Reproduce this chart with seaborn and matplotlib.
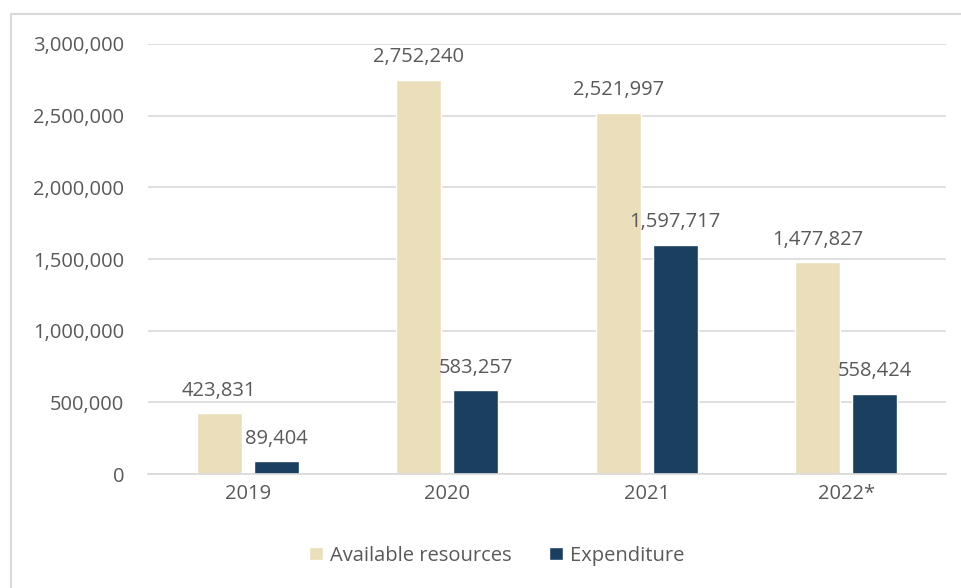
import matplotlib
matplotlib.use("Agg")
import matplotlib.pyplot as plt
import seaborn as sns
import pandas as pd
from matplotlib.patches import Rectangle

years = ["2019", "2020", "2021", "2022*"]
available = [423831, 2752240, 2521997, 1477827]
expenditure = [89404, 583257, 1597717, 558424]
series_names = ["Available resources", "Expenditure"]
colors = ["#EBDFBB", "#1B3F5F"]
yticks = [0, 500000, 1000000, 1500000, 2000000, 2500000, 3000000]

df = pd.DataFrame({
    "year": years * 2,
    "value": available + expenditure,
    "series": [series_names[0]] * 4 + [series_names[1]] * 4,
})

sns.set_theme(style="white")
plt.rcParams['font.family'] = ['Open Sans', 'DejaVu Sans']
text_color = "#595959"
fs = 14.5

fig = plt.figure(figsize=(9.62, 5.88), dpi=100)
ax = fig.add_axes([148/962, 1-474/588, (946-148)/962, (474-44)/588])

sns.barplot(data=df, x="year", y="value", hue="series", palette=colors,
            width=0.57, gap=0.21, ax=ax, saturation=1, legend=True)

ax.set_ylim(0, 3000000)
ax.set_xlim(-0.5, 3.5)
ax.set_yticks(yticks)
ax.set_yticklabels([f"{v:,}" for v in yticks])
ax.yaxis.grid(True, color="#D9D9D9", lw=1.2)
ax.set_axisbelow(True)
for s in ["top", "right", "left"]:
    ax.spines[s].set_visible(False)
ax.spines["bottom"].set_color("#D9D9D9")
ax.spines["bottom"].set_linewidth(1.2)
ax.tick_params(axis="both", length=0, labelsize=fs, colors=text_color)
ax.tick_params(axis="y", pad=17)
ax.tick_params(axis="x", pad=7)
ax.set_xlabel("")
ax.set_ylabel("")

for cont in ax.containers:
    ax.bar_label(cont, labels=[f"{v:,.0f}" for v in cont.datavalues],
                 padding=9, fontsize=fs, color=text_color)

handles, labels = ax.get_legend_handles_labels()
ax.legend(handles, labels, loc="center", bbox_to_anchor=(0.437, -0.19),
          ncol=2, frameon=False, fontsize=fs, labelcolor=text_color,
          handlelength=0.65, handleheight=0.65, handletextpad=0.35, columnspacing=1.9)

fig.patches.append(Rectangle((11/962, -0.1), 2, (588-14)/588 + 0.1,
                             transform=fig.transFigure, fill=False,
                             edgecolor="#D9D9D9", lw=1.5))

fig.savefig("out.png", dpi=100)
